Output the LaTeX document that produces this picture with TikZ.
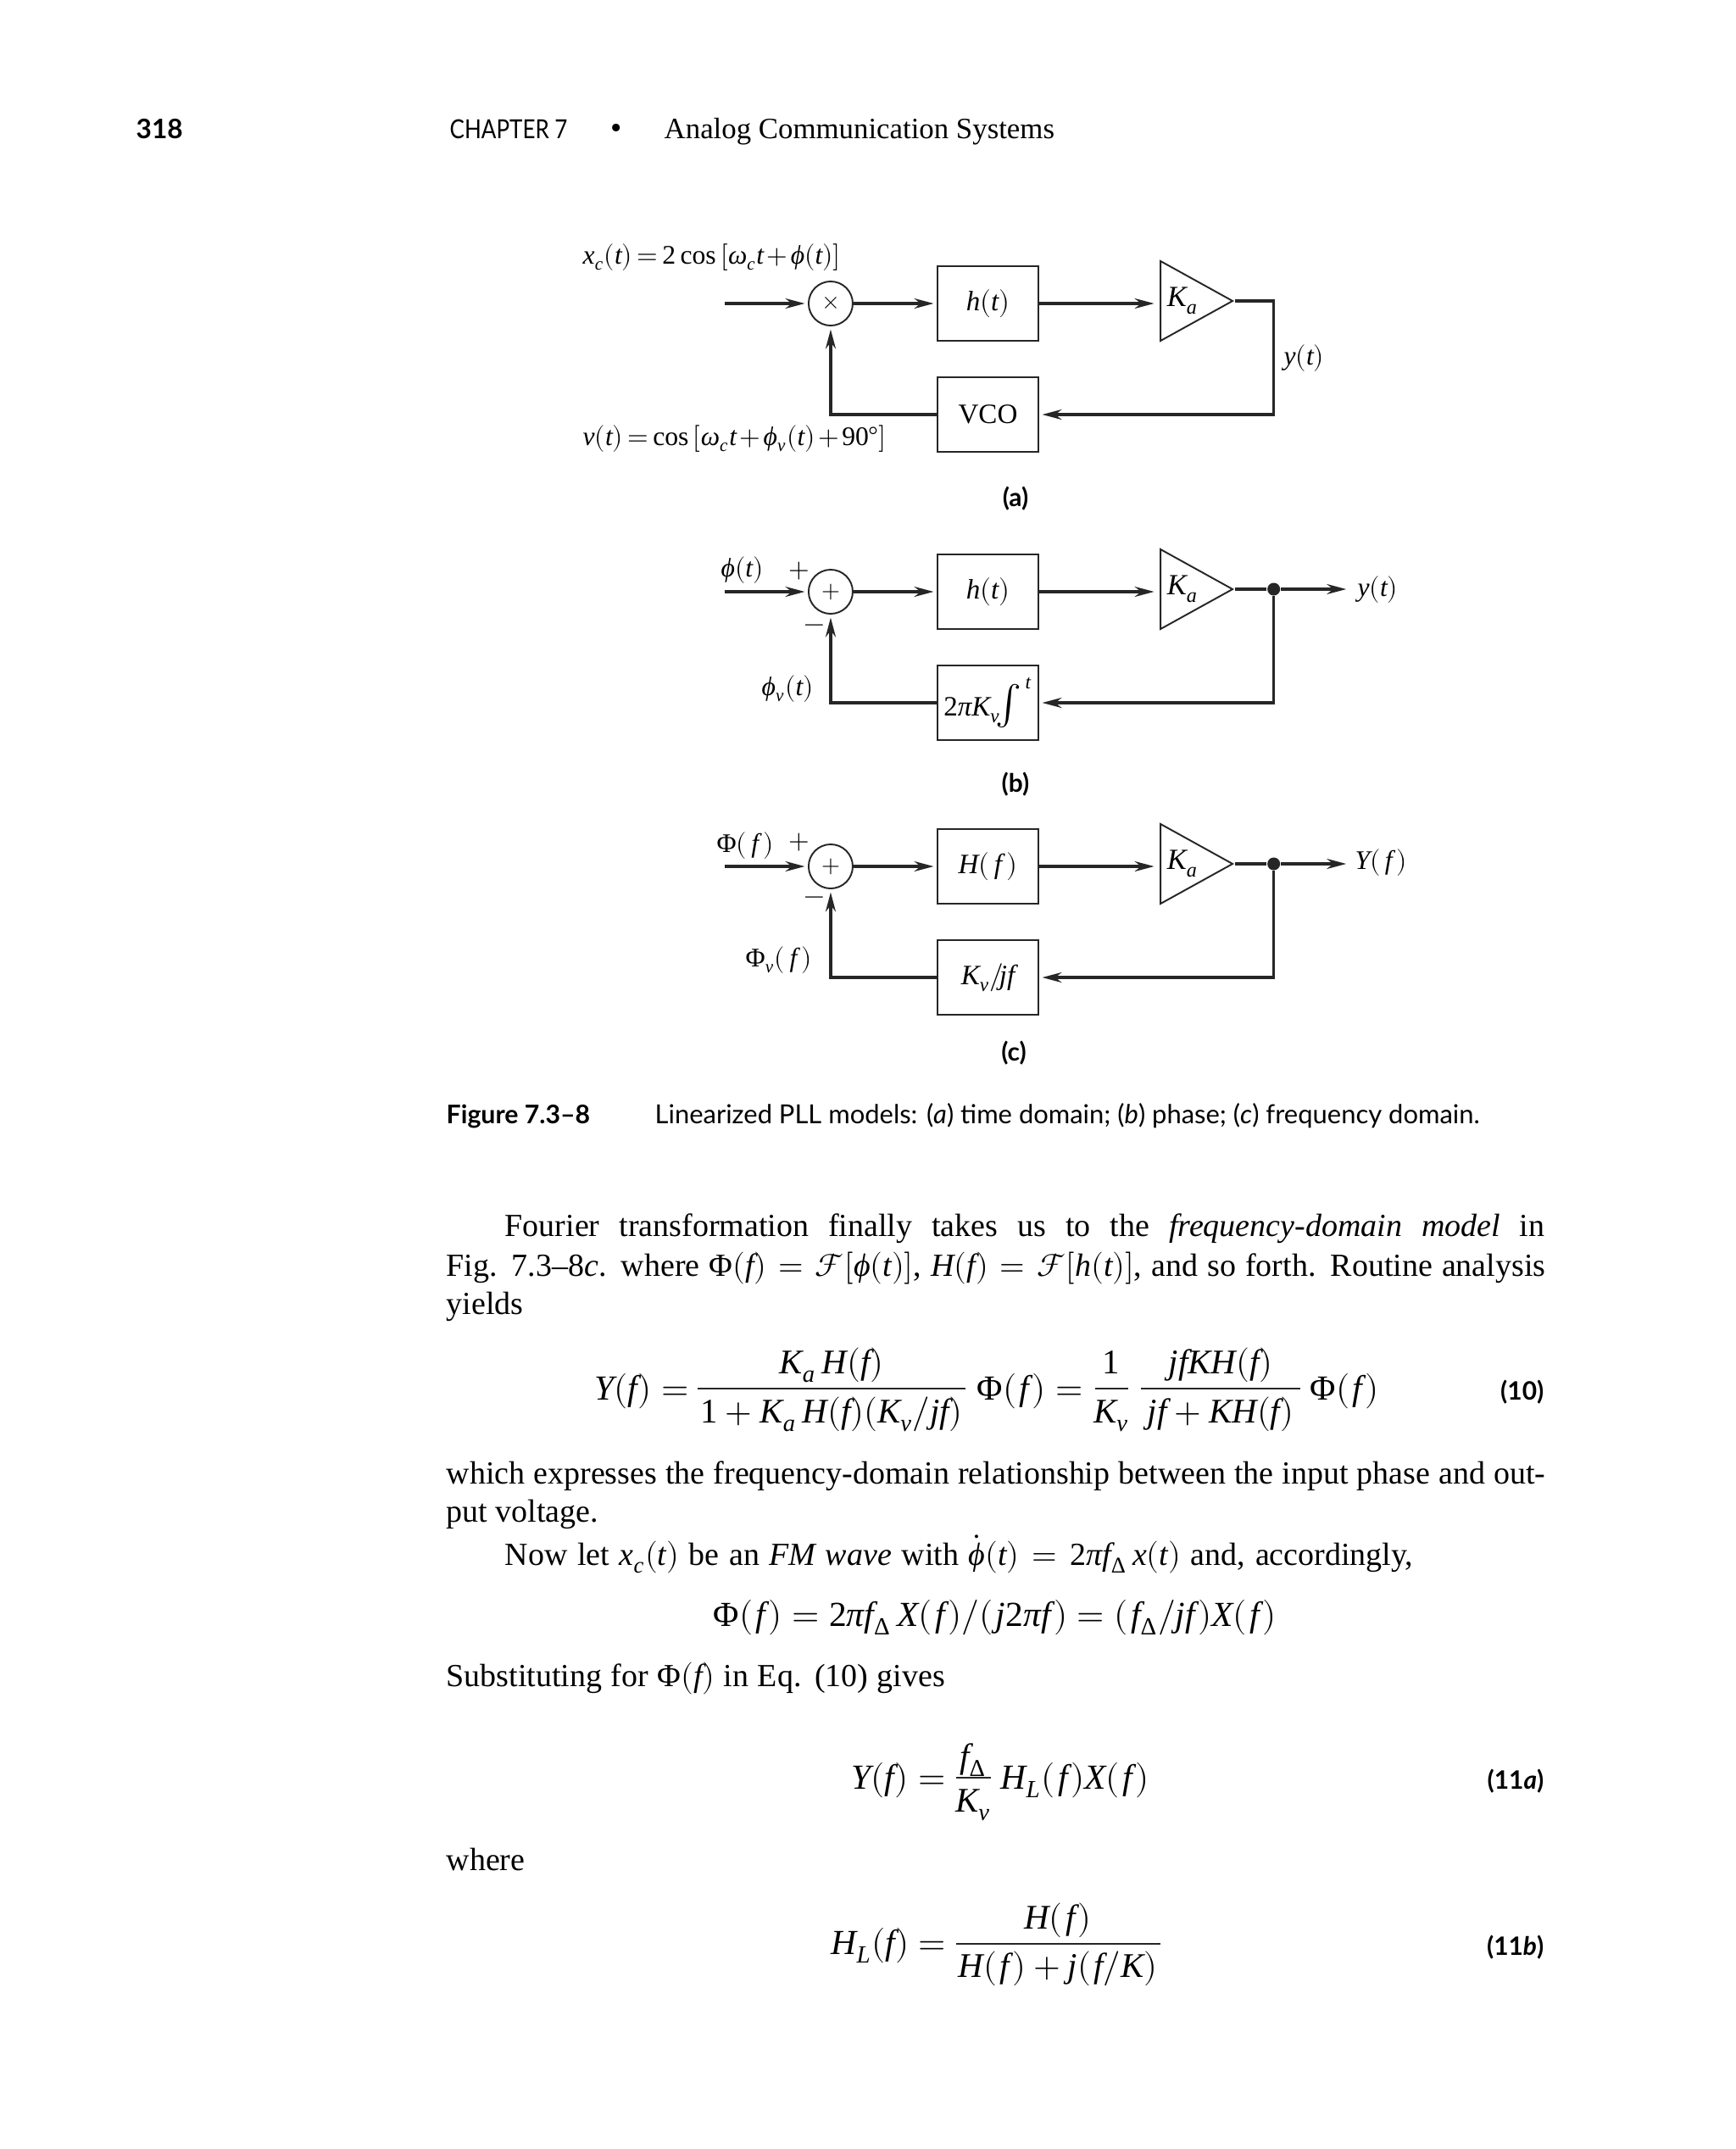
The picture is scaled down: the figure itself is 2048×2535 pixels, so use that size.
\documentclass[tikz,border=0pt]{standalone}
\usepackage{graphicx}
\usepackage{fontspec}
\usepackage{unicode-math}
\setmainfont{Liberation Serif}
\setmathfont{Latin Modern Math}
\setmathfont[range={up,bfup}]{Liberation Serif}
\setmathfont[range=it]{Liberation Serif Italic}
\newfontfamily\gothfont{Lato}
\usetikzlibrary{arrows.meta,shapes.geometric,positioning,calc}
\newcommand\tightmath{\thickmuskip=3mu\relax\medmuskip=2mu\relax}
\newcommand\hs{\mkern1.5mu}

\begin{document}
\begin{tikzpicture}[
  x=0.01cm, y=-0.01cm,
  block/.style={rectangle, draw=black!85, line width=0.55pt, inner sep=0pt,
                minimum width=1.19cm, minimum height=0.88cm,
                font=\fontsize{9.4}{11}\selectfont},
  junction/.style={circle, draw=black!85, line width=0.55pt, inner sep=0pt,
                   minimum size=0.52cm, font=\fontsize{8}{10}\selectfont},
  gain/.style={isosceles triangle, isosceles triangle stretches,
               draw=black!85, line width=0.55pt, inner sep=0pt,
               minimum width=0.94cm, minimum height=0.85cm},
  tap/.style={circle, fill=black!85, inner sep=0pt, minimum size=0.15cm},
  arr/.style={-{Stealth[length=6.5pt,width=3.4pt]}, line width=1pt, draw=black!85,
              shorten >=1pt},
  lab/.style={anchor=base west, inner sep=0pt,
              font=\fontsize{9}{11}\selectfont\tightmath},
  gainlab/.style={right=0.08cm, inner sep=0pt, font=\fontsize{9.8}{11}\selectfont},
  sublab/.style={inner sep=0pt, font=\gothfont\bfseries\fontsize{8.5}{10}\selectfont},
  body/.style={anchor=base west, inner sep=0pt, font=\fontsize{10.8}{13}\selectfont},
  disp/.style={anchor=base west, inner sep=0pt, font=\fontsize{11.8}{14}\selectfont},
  mid/.style={anchor=base, inner sep=0pt, font=\fontsize{11.6}{14}\selectfont},
  eqno/.style={anchor=base east, inner sep=0pt, font=\gothfont\bfseries\fontsize{8.5}{10}\selectfont},
  fracbar/.style={line width=0.5pt, draw=black!85},
  capt/.style={anchor=base west, inner sep=0pt, font=\gothfont\fontsize{8.8}{10}\selectfont},
]
\useasboundingbox (0,0) rectangle (2048,2535);

% page head
\node[capt, font=\gothfont\bfseries\fontsize{9}{10}\selectfont] (pg) at (160,163) {318};
\node[capt] (chap) at (530,163) {\scalebox{0.84}[1]{CHAPTER 7}};
\node[body] (bul) at (720,163) {•};
\node[body, font=\fontsize{9.9}{12}\selectfont] (ttl) at (783,163) {Analog Communication Systems};

% part (a)
\node[block] (ha) at (1165.5,358) {$h(t)$};
\node[block, below=0.41cm of ha] (va) {VCO};
\node[junction, left=0.98cm of ha] (sa) {$\times$};
\node[gain, right=1.42cm of ha, yshift=0.03cm] (ta) {};
\node[gainlab] (ka) at (ta.west) {$K_a$};
\coordinate[left=0.98cm of sa] (ia);
\coordinate (ca) at ([xshift=0.46cm]ta.apex);
\draw[arr] (ia) -- (sa);
\draw[arr] (sa) -- (ha);
\draw[arr] (ha.east) -- ([xshift=-0.03cm]ha.east -| ta.west);
\draw[arr] (ta.apex) -- (ca) |- (va.east);
\draw[arr] (va.west) -| (sa.south);
\node[lab] (xa) at (687,311) {$x_c(t)=2\cos{}[\omega_c t+\phi(t)]$};
\node[lab] (ua) at (687,525) {$v(t)=\cos{}[\omega_c t+\phi_v(t)+90°]$};
\node[lab] (ya) at (1514,430) {$y(t)$};
\node[sublab] (na) at (1198,588) {(a)};

% part (b)
\node[block] (hb) at (1165.5,698) {$h(t)$};
\node[block, below=0.41cm of hb] (ib) {$2\pi K_v\!\scalebox{1.4}{$\int$}^{\,t}$};
\node[junction, left=0.98cm of hb] (sb) {$+$};
\node[gain, right=1.42cm of hb, yshift=0.03cm] (tb) {};
\node[gainlab] (kb) at (tb.west) {$K_a$};
\coordinate[left=0.98cm of sb] (ib0);
\node[tap] (db) at ([xshift=0.46cm]tb.apex) {};
\coordinate (ob) at ([xshift=1.35cm]tb.apex);
\draw[arr] (ib0) -- (sb);
\draw[arr] (sb) -- (hb);
\draw[arr] (hb.east) -- ([xshift=-0.03cm]hb.east -| tb.west);
\draw[line width=1pt, draw=black!85] (tb.apex) -- (db);
\draw[arr] (db) -- (ob);
\draw[arr] (db) |- (ib.east);
\draw[arr] (ib.west) -| (sb.south);
\node[lab] (pb) at (850,680) {$\phi(t)$};
\node[lab] (ppb) at (930,681) {$+$};
\node[lab] (mb) at (948,745) {$-$};
\node[lab] (pvb) at (898,820) {$\phi_v(t)$};
\node[lab] (yb) at (1601,703) {$y(t)$};
\node[sublab] (nb) at (1198,925) {(b)};

% part (c)
\node[block] (hc) at (1165.5,1022) {$H(\,f\,)$};
\node[block, below=0.41cm of hc] (ic) {$K_v/\!jf$};
\node[junction, left=0.98cm of hc] (sc) {$+$};
\node[gain, right=1.42cm of hc, yshift=0.03cm] (tc) {};
\node[gainlab] (kc) at (tc.west) {$K_a$};
\coordinate[left=0.98cm of sc] (ic0);
\node[tap] (dc) at ([xshift=0.46cm]tc.apex) {};
\coordinate (oc) at ([xshift=1.35cm]tc.apex);
\draw[arr] (ic0) -- (sc);
\draw[arr] (sc) -- (hc);
\draw[arr] (hc.east) -- ([xshift=-0.03cm]hc.east -| tc.west);
\draw[line width=1pt, draw=black!85] (tc.apex) -- (dc);
\draw[arr] (dc) -- (oc);
\draw[arr] (dc) |- (ic.east);
\draw[arr] (ic.west) -| (sc.south);
\node[lab] (pc) at (845,1005) {$\Phi(\,f\,)$};
\node[lab] (ppc) at (930,1001) {$+$};
\node[lab] (mc) at (948,1066) {$-$};
\node[lab] (pvc) at (879,1140) {$\Phi_v(\,f\,)$};
\node[lab] (yc) at (1598,1025) {$Y(\,f\,)$};
\node[sublab] (nc) at (1196,1242) {(c)};

% figure caption
\node[capt, font=\gothfont\bfseries\fontsize{8.6}{10}\selectfont] (fg) at (526,1325) {Figure 7.3–8};
\node[capt] (cp) at (772,1325) {Linearized PLL models: (\textit{a}) time domain; (\textit{b}) phase; (\textit{c}) frequency domain.};

% running text
\node[body] (l1) at (595,1458) {\hbox to 12.26cm{Fourier transformation finally takes us to the \textit{frequency-domain model} in}};
\node[body] (l2) at (526,1505) {\hbox to 12.96cm{Fig. 7.3–8\textit{c}. where $\Phi(f)=\mathscr{F}[\phi(t)]$, $H(f)=\mathscr{F}[h(t)]$, and so forth. Routine analysis}};
\node[body] (l3) at (526,1550) {yields};
\node[body] (l4) at (526,1750) {\hbox to 12.96cm{which expresses the frequency-domain relationship between the input phase and out-}};
\node[body] (l5) at (526,1795) {put voltage.};
\node[body] (l6) at (595,1846) {\hbox to 10.71cm{Now let $x_c(t)$ be an \textit{FM wave} with $\dot{\phi}(t)=2\pi f_\Delta\,x(t)$ and, accordingly,}};
\node[body] (l7) at (526,1989) {\hbox to 5.88cm{Substituting for $\Phi(f)$ in Eq. (10) gives}};
\node[body] (l8) at (526,2206) {where};

% equation (10)
\node[disp] (e1) at (701,1651) {$Y(f)=$};
\node[mid] (e1n) at (981,1620) {$K_a\,H(f)$};
\node[mid] (e1d) at (981,1678) {$1+K_a\,H(f)(K_v/jf)$};
\draw[fracbar] (823,1638) coordinate (e1a) -- (1139,1638) coordinate (e1b);
\node[disp] (e2) at (1152,1651) {$\Phi(\hs f\hs)=$};
\node[mid] (e2n) at (1311,1620) {$1$};
\node[mid] (e2d) at (1311,1678) {$K_v$};
\draw[fracbar] (1292,1638) coordinate (e2a) -- (1331,1638) coordinate (e2b);
\node[mid] (e3n) at (1440,1620) {$jfKH(f)$};
\node[mid] (e3d) at (1440,1678) {$jf+KH(f)$};
\draw[fracbar] (1346,1638) coordinate (e3a) -- (1534,1638) coordinate (e3b);
\node[disp] (e4) at (1545,1651) {$\Phi(\hs f\hs)$};
\node[eqno] (n10) at (1822,1651) {(10)};

% flux line
\node[disp] (e5) at (841,1918) {$\Phi(\hs f\hs)=2\pi f_\Delta\,X(\hs f\hs)/(\hs j2\pi f\hs)=(\hs f_\Delta/jf\hs)X(\hs f\hs)$};

% equation (11a)
\node[disp] (e6) at (1004,2110) {$Y(f)=$};
\node[mid] (e6n) at (1148,2085) {$f_\Delta$};
\node[mid] (e6d) at (1148,2137) {$K_v$};
\draw[fracbar] (1128,2097) coordinate (e6a) -- (1169,2097) coordinate (e6b);
\node[disp] (e7) at (1180,2110) {$H_L(\hs f\hs)X(\hs f\hs)$};
\node[eqno] (n11a) at (1822,2110) {(11\textit{a})};

% equation (11b)
\node[disp] (e8) at (980,2305) {$H_L(f)=$};
\node[mid] (e8n) at (1248,2275) {$H(\hs f\hs)$};
\node[mid] (e8d) at (1248,2332) {$H(\hs f\hs)+j(\hs f/K)$};
\draw[fracbar] (1128,2293) coordinate (e8a) -- (1369,2293) coordinate (e8b);
\node[eqno] (n11b) at (1822,2306) {(11\textit{b})};
\end{tikzpicture}
\end{document}
